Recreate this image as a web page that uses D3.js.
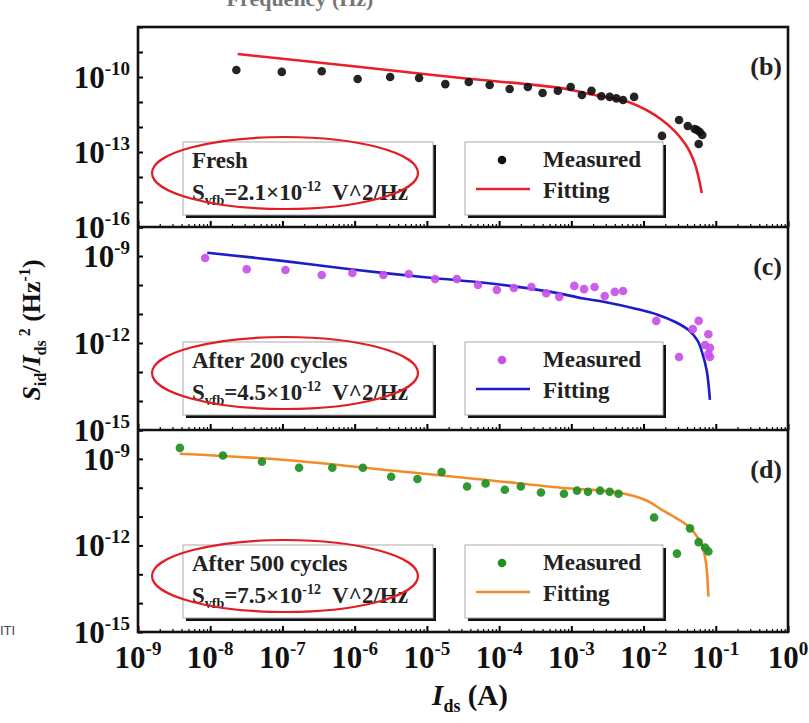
<!DOCTYPE html>
<html>
<head>
<meta charset="utf-8">
<script src="https://cdn.jsdelivr.net/npm/d3@7"></script>
<style>
  body { margin: 0; background: #fff; }
  svg text { font-family: "Liberation Serif", "Times New Roman", serif; font-weight: bold; }
</style>
</head>
<body>
<div id="chart"></div>
<script>
// ---- data ----
const xTickExps = [-9, -8, -7, -6, -5, -4, -3, -2, -1, 0];

// (b) fresh
const bMeasI = [2.3e-8, 9.8e-8, 3.5e-7, 1.1e-6, 3.1e-6, 7.8e-6, 1.8e-5, 3.8e-5, 7.4e-5, 1.4e-4, 2.5e-4, 4.0e-4, 6.5e-4, 9.8e-4, 1.4e-3, 1.9e-3, 2.6e-3, 3.4e-3, 4.2e-3, 5.2e-3, 7.4e-3, 1.8e-2, 3.1e-2, 4.1e-2, 5.1e-2, 5.5e-2, 6.0e-2, 6.5e-2, 5.8e-2];
const bMeasS = [1.9e-10, 1.6e-10, 1.7e-10, 8.3e-11, 1.0e-10, 9.1e-11, 5.2e-11, 6.3e-11, 4.8e-11, 3.3e-11, 4.0e-11, 2.3e-11, 2.8e-11, 4.0e-11, 1.9e-11, 2.8e-11, 1.7e-11, 1.6e-11, 1.4e-11, 1.2e-11, 1.6e-11, 4.4e-13, 1.9e-12, 1.1e-12, 8.3e-13, 7.6e-13, 6.3e-13, 4.8e-13, 2.1e-13];
const bFitI = [2.4e-8, 1.2e-6, 3.0e-5, 7.2e-4, 2.1e-3, 6.2e-3, 1.8e-2, 3.7e-2, 5.1e-2, 6.4e-2];
const bFitS = [8.3e-10, 2.5e-10, 9.1e-11, 3.6e-11, 1.9e-11, 1.0e-11, 1.9e-12, 2.3e-13, 3.6e-14, 2.3e-15];

// (c) after 200 cycles
const cMeasI = [8.5e-9, 3.2e-8, 1.1e-7, 3.5e-7, 9.3e-7, 2.5e-6, 5.6e-6, 1.3e-5, 2.6e-5, 5.1e-5, 9.3e-5, 1.6e-4, 2.8e-4, 4.5e-4, 6.8e-4, 1.1e-3, 1.5e-3, 2.1e-3, 2.9e-3, 4.0e-3, 5.2e-3, 1.5e-2, 5.8e-2, 4.8e-2, 7.9e-2, 7.1e-2, 8.3e-2, 7.9e-2, 8.3e-2, 3.1e-2];
const cMeasS = [8.5e-10, 3.5e-10, 3.3e-10, 2.2e-10, 2.6e-10, 2.2e-10, 2.4e-10, 1.6e-10, 1.6e-10, 1.0e-10, 6.8e-11, 7.9e-11, 8.5e-11, 5.2e-11, 3.9e-11, 9.3e-11, 7.2e-11, 8.5e-11, 4.2e-11, 5.8e-11, 6.2e-11, 5.8e-12, 5.8e-12, 3.0e-12, 2.0e-12, 8.5e-13, 6.8e-13, 4.2e-13, 3.3e-13, 3.3e-13];
const cFitI = [9.1e-9, 1.0e-7, 8.7e-7, 1.3e-5, 6.2e-5, 5.2e-4, 1.4e-3, 2.9e-3, 8.0e-3, 1.6e-2, 2.8e-2, 4.2e-2, 5.6e-2, 6.5e-2, 7.5e-2, 8.3e-2];
const cFitS = [1.3e-9, 6.8e-10, 3.5e-10, 1.7e-10, 1.2e-10, 5.8e-11, 3.5e-11, 2.6e-11, 1.5e-11, 9.3e-12, 5.2e-12, 2.8e-12, 1.2e-12, 4.6e-13, 1.1e-13, 1.1e-14];

// (d) after 500 cycles
const dMeasI = [3.8e-9, 1.5e-8, 5.2e-8, 1.7e-7, 4.9e-7, 1.3e-6, 3.2e-6, 7.4e-6, 1.6e-5, 3.6e-5, 6.5e-5, 1.2e-4, 2.0e-4, 3.8e-4, 7.9e-4, 1.2e-3, 1.7e-3, 2.5e-3, 3.4e-3, 4.5e-3, 1.4e-2, 4.4e-2, 5.8e-2, 7.1e-2, 7.9e-2, 2.9e-2];
const dMeasS = [2.4e-9, 1.3e-9, 7.9e-10, 4.9e-10, 4.9e-10, 4.9e-10, 2.4e-10, 2.0e-10, 3.5e-10, 1.1e-10, 1.4e-10, 8.5e-11, 1.1e-10, 6.8e-11, 6.2e-11, 7.9e-11, 7.2e-11, 7.9e-11, 7.2e-11, 6.2e-11, 9.3e-12, 3.9e-12, 1.3e-12, 8.5e-13, 6.2e-13, 5.2e-13];
const dFitI = [3.8e-9, 1.0e-7, 2.5e-6, 6.2e-5, 7.2e-4, 4.5e-3, 1.1e-2, 1.8e-2, 2.9e-2, 4.2e-2, 5.6e-2, 6.5e-2, 7.3e-2, 7.9e-2];
const dFitS = [1.5e-9, 9.3e-10, 4.2e-10, 1.9e-10, 1.0e-10, 6.8e-11, 3.6e-11, 1.7e-11, 8.5e-12, 4.6e-12, 1.9e-12, 9.3e-13, 2.6e-13, 1.7e-14];

const panelTags = ["(b)", "(c)", "(d)"];
const panelTitles = ["Fresh", "After 200 cycles", "After 500 cycles"];
const svfbValues = ["2.1", "4.5", "7.5"];
const yLabelExps = [[-10, -13, -16], [-9, -12, -15], [-9, -12, -15]];
const yDomains = [[1e-16, 1e-8], [1e-15, 1e-8], [1e-15, 1e-8]];

// ---- layout ----
const width = 809, height = 723;
const left = 138, right = 788;
const panelEdges = [27, 227, 430, 632];
const dotColors = ["#111111", "#c850ea", "#1f8f22"];
const lineColors = ["#e8202c", "#1c1cc8", "#f28c28"];
const ellipseColor = "#e01e24";

const svg = d3.select("#chart").append("svg")
  .attr("width", width).attr("height", height);

const x = d3.scaleLog().domain([1e-9, 1]).range([left, right]);

// cropped text bits from neighbouring figures
svg.append("text").attr("x", 300).attr("y", 6).attr("text-anchor", "middle")
  .attr("font-size", 22).attr("fill", "#555").attr("opacity", 0.8).text("Frequency (Hz)");
svg.append("text").attr("x", 0).attr("y", 635)
  .style("font-family", "'Liberation Sans', sans-serif").style("font-weight", "normal")
  .attr("font-size", 13).attr("fill", "#444").text("ITI");

const panels = [
  { mI: bMeasI, mS: bMeasS, fI: bFitI, fS: bFitS },
  { mI: cMeasI, mS: cMeasS, fI: cFitI, fS: cFitS },
  { mI: dMeasI, mS: dMeasS, fI: dFitI, fS: dFitS },
];

panels.forEach(function (p, i) {
  drawPanel(p, i);
});

function supLabel(sel, exp, big, small, lift) {
  sel.append("tspan").attr("font-size", big).text("10");
  sel.append("tspan").attr("font-size", small).attr("dy", -lift).text(exp);
}

function drawPanel(p, i) {
  const top = panelEdges[i], bottom = panelEdges[i + 1];
  const y = d3.scaleLog().domain(yDomains[i]).range([bottom, top]);
  const g = svg.append("g").attr("class", "panel");

  // clip for data
  const clipId = "clip" + i;
  svg.append("clipPath").attr("id", clipId).append("rect")
    .attr("x", left).attr("y", top).attr("width", right - left).attr("height", bottom - top);

  // left ticks (inward, one per decade)
  const lo = Math.log10(yDomains[i][0]), hi = Math.log10(yDomains[i][1]);
  const yDecades = d3.range(lo, hi + 1).map((e) => Math.pow(10, e));
  g.append("g").attr("transform", "translate(" + left + ",0)")
    .call(d3.axisRight(y).tickValues(yDecades).tickSize(5).tickFormat(""))
    .call((a) => a.select(".domain").remove())
    .selectAll("line").attr("stroke", "#000").attr("stroke-width", 2);

  // bottom ticks (inward), major + minor
  const majors = xTickExps.map((e) => Math.pow(10, e));
  const minors = [];
  xTickExps.slice(0, -1).forEach(function (e) {
    for (let k = 2; k < 10; k++) minors.push(k * Math.pow(10, e));
  });
  g.append("g").attr("transform", "translate(0," + bottom + ")")
    .call(d3.axisTop(x).tickValues(majors).tickSize(6).tickFormat(""))
    .call((a) => a.select(".domain").remove())
    .selectAll("line").attr("stroke", "#000").attr("stroke-width", 2);
  g.append("g").attr("transform", "translate(0," + bottom + ")")
    .call(d3.axisTop(x).tickValues(minors).tickSize(3).tickFormat(""))
    .call((a) => a.select(".domain").remove())
    .selectAll("line").attr("stroke", "#000").attr("stroke-width", 1.2);

  // y labels
  yLabelExps[i].forEach(function (e) {
    const t = g.append("text").attr("x", 130).attr("y", y(Math.pow(10, e)) + 11)
      .attr("text-anchor", "end").attr("fill", "#111");
    supLabel(t, String(e), 31, 19, 13);
  });

  // data
  const data = g.append("g").attr("clip-path", "url(#" + clipId + ")");
  const fit = p.fI.map((v, k) => [v, p.fS[k]]);
  const line = d3.line().x((d) => x(d[0])).y((d) => y(d[1])).curve(d3.curveCatmullRom.alpha(0.5));
  data.append("path").datum(fit).attr("d", line)
    .attr("fill", "none").attr("stroke", lineColors[i]).attr("stroke-width", 2.6);
  data.selectAll("circle").data(p.mI).enter().append("circle")
    .attr("cx", (d) => x(d)).attr("cy", (d, k) => y(p.mS[k])).attr("r", 4.3)
    .attr("fill", dotColors[i]).attr("fill-opacity", 0.92);

  // panel tag
  g.append("text").attr("x", 782).attr("y", top + 48).attr("text-anchor", "end")
    .attr("font-size", 26).attr("fill", "#222").text(panelTags[i]);

  // legend with info text
  drawBox(g, 183, top + 115, 250, 73);
  g.append("text").attr("x", 192).attr("y", top + 141).attr("font-size", 23)
    .attr("fill", "#222").text(panelTitles[i]);
  const s = g.append("text").attr("x", 192).attr("y", top + 173).attr("fill", "#222")
    .attr("xml:space", "preserve");
  s.append("tspan").attr("font-size", 23).text("S");
  s.append("tspan").attr("font-size", 14).attr("dy", 5).text("vfb");
  s.append("tspan").attr("font-size", 23).attr("dy", -5).text("=" + svfbValues[i] + "\u00d710");
  s.append("tspan").attr("font-size", 14).attr("dy", -9).text("-12");
  s.append("tspan").attr("font-size", 23).attr("dy", 9).text("  V^2/Hz");

  // measured/fitting legend
  drawBox(g, 465, top + 115, 198, 73);
  g.append("circle").attr("cx", 502).attr("cy", top + 133).attr("r", 4.3).attr("fill", dotColors[i]);
  g.append("line").attr("x1", 476).attr("x2", 530).attr("y1", top + 162).attr("y2", top + 162)
    .attr("stroke", lineColors[i]).attr("stroke-width", 2.6);
  g.append("text").attr("x", 543).attr("y", top + 140).attr("font-size", 23)
    .attr("fill", "#222").text("Measured");
  g.append("text").attr("x", 543).attr("y", top + 171).attr("font-size", 23)
    .attr("fill", "#222").text("Fitting");

  // red annotation ellipse
  g.append("ellipse").attr("cx", 285).attr("cy", top + 146).attr("rx", 133).attr("ry", 36)
    .attr("fill", "none").attr("stroke", ellipseColor).attr("stroke-width", 2.2);
}

function drawBox(g, bx, by, bw, bh) {
  g.append("rect").attr("x", bx + 3).attr("y", by + 3).attr("width", bw).attr("height", bh)
    .attr("fill", "#111");
  g.append("rect").attr("x", bx).attr("y", by).attr("width", bw).attr("height", bh)
    .attr("fill", "#fff").attr("stroke", "#aaa").attr("stroke-width", 1);
}

// frame
svg.append("rect").attr("x", left).attr("y", panelEdges[0])
  .attr("width", right - left).attr("height", panelEdges[3] - panelEdges[0])
  .attr("fill", "none").attr("stroke", "#111").attr("stroke-width", 2.6);
[panelEdges[1], panelEdges[2]].forEach(function (yy) {
  svg.append("line").attr("x1", left).attr("x2", right).attr("y1", yy).attr("y2", yy)
    .attr("stroke", "#111").attr("stroke-width", 2.6);
});

// x tick labels
xTickExps.forEach(function (e) {
  const t = svg.append("text").attr("x", x(Math.pow(10, e))).attr("y", 668)
    .attr("text-anchor", "middle").attr("fill", "#111");
  supLabel(t, String(e), 31, 19, 13);
});

// axis titles
const xt = svg.append("text").attr("x", 470).attr("y", 705).attr("text-anchor", "middle")
  .attr("fill", "#111");
xt.append("tspan").attr("font-size", 29).attr("font-style", "italic").text("I");
xt.append("tspan").attr("font-size", 18).attr("dy", 7).text("ds");
xt.append("tspan").attr("font-size", 29).attr("dy", -7).text(" (A)");

const yt = svg.append("text").attr("transform", "translate(40,330) rotate(-90)")
  .attr("text-anchor", "middle").attr("fill", "#111");
yt.append("tspan").attr("font-size", 26).attr("font-style", "italic").text("S");
yt.append("tspan").attr("font-size", 16).attr("dy", 6).text("id");
yt.append("tspan").attr("font-size", 26).attr("dy", -6).text("/");
yt.append("tspan").attr("font-size", 26).attr("font-style", "italic").text("I");
yt.append("tspan").attr("font-size", 16).attr("dy", 6).text("ds");
yt.append("tspan").attr("font-size", 16).attr("dy", -16).text(" 2");
yt.append("tspan").attr("font-size", 26).attr("dy", 10).text(" (Hz");
yt.append("tspan").attr("font-size", 16).attr("dy", -10).text("-1");
yt.append("tspan").attr("font-size", 26).attr("dy", 10).text(")");
</script>
</body>
</html>
